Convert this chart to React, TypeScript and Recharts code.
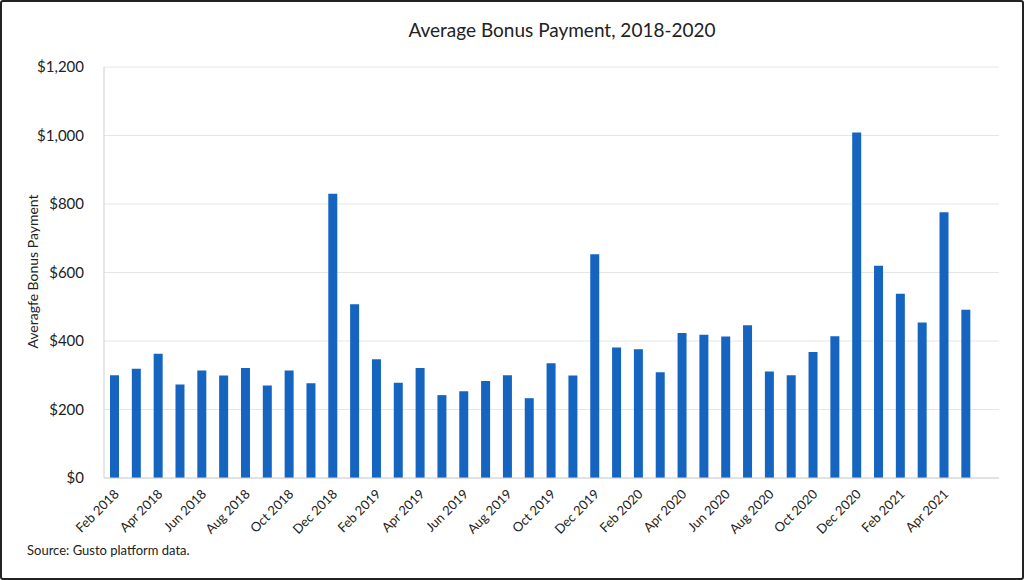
import React from "react";
import { BarChart, Bar, XAxis, YAxis, CartesianGrid } from "recharts";

// monthly categories, Feb 2018 - May 2021 plus one empty slot at the end
const months: string[] = [
    "Feb 2018", "Mar 2018", "Apr 2018", "May 2018", "Jun 2018", "Jul 2018",
    "Aug 2018", "Sep 2018", "Oct 2018", "Nov 2018", "Dec 2018",
    "Jan 2019", "Feb 2019", "Mar 2019", "Apr 2019", "May 2019", "Jun 2019",
    "Jul 2019", "Aug 2019", "Sep 2019", "Oct 2019", "Nov 2019", "Dec 2019",
    "Jan 2020", "Feb 2020", "Mar 2020", "Apr 2020", "May 2020", "Jun 2020",
    "Jul 2020", "Aug 2020", "Sep 2020", "Oct 2020", "Nov 2020", "Dec 2020",
    "Jan 2021", "Feb 2021", "Mar 2021", "Apr 2021", "May 2021", "",
];

const bonus: (number | null)[] = [
    300, 319, 363, 273, 314, 299, 321, 270, 314, 277, 830,
    507, 347, 278, 321, 242, 253, 283, 300, 233, 335, 299, 653,
    381, 376, 309, 423, 418, 413, 446, 311, 300, 368, 414, 1009,
    620, 538, 454, 776, 491, null,
];

const yTicks: number[] = [0, 200, 400, 600, 800, 1000, 1200];

const FONT = "Lato, 'Open Sans', sans-serif";

const data = months.map((m, i) => ({ month: m, value: bonus[i] }));

// rotated month label, ends at the category centre
const MonthTick = (props: any) => {
    const { x, y, payload } = props;
    return (
        <g transform={`translate(${x + 2},${y + 6}) rotate(-45)`}>
            <text
                x={0}
                y={0}
                dy={4}
                textAnchor="end"
                fontSize={13}
                fontFamily={FONT}
                fill="#222"
            >
                {payload.value}
            </text>
        </g>
    );
};

export default function App() {
    return (
        <div
            style={{
                position: "absolute",
                left: 0,
                top: 0,
                width: 1024,
                height: 580,
                boxSizing: "border-box",
                border: "2px solid #222",
                borderRadius: 3,
                background: "#fff",
                fontFamily: FONT,
                overflow: "hidden",
            }}
        >
            <div
                style={{
                    position: "absolute",
                    left: 0,
                    width: 1120,
                    top: 16,
                    textAlign: "center",
                    fontSize: 19,
                    color: "#222",
                }}
            >
                Average Bonus Payment, 2018-2020
            </div>
            <div
                style={{
                    position: "absolute",
                    left: 30 - 100,
                    top: 270 - 9,
                    width: 200,
                    textAlign: "center",
                    fontSize: 14,
                    color: "#222",
                    transform: "rotate(-90deg)",
                }}
            >
                Averagfe Bonus Payment
            </div>
            <div
                style={{
                    position: "absolute",
                    left: 25,
                    top: 540,
                    fontSize: 13,
                    color: "#222",
                }}
            >
                Source: Gusto platform data.
            </div>
            <BarChart
                width={1020}
                height={576}
                data={data}
                margin={{ top: 65, right: 23, left: 10, bottom: 40 }}
                style={{ position: "absolute", left: 0, top: 0 }}
            >
                <CartesianGrid vertical={false} stroke="#e6e6e6" />
                <XAxis
                    dataKey="month"
                    interval={1}
                    tick={<MonthTick />}
                    tickLine={false}
                    axisLine={{ stroke: "#d0d0d0" }}
                    height={60}
                />
                <YAxis
                    domain={[0, 1200]}
                    ticks={yTicks}
                    width={92}
                    tickLine={false}
                    axisLine={{ stroke: "#d0d0d0" }}
                    tickFormatter={(v: number) => `$${v.toLocaleString("en-US")}`}
                    tick={{ fontSize: 15, fontFamily: FONT, fill: "#222" }}
                    tickMargin={14}
                />
                <Bar dataKey="value" fill="#1565c0" barSize={9} isAnimationActive={false} />
            </BarChart>
        </div>
    );
}
